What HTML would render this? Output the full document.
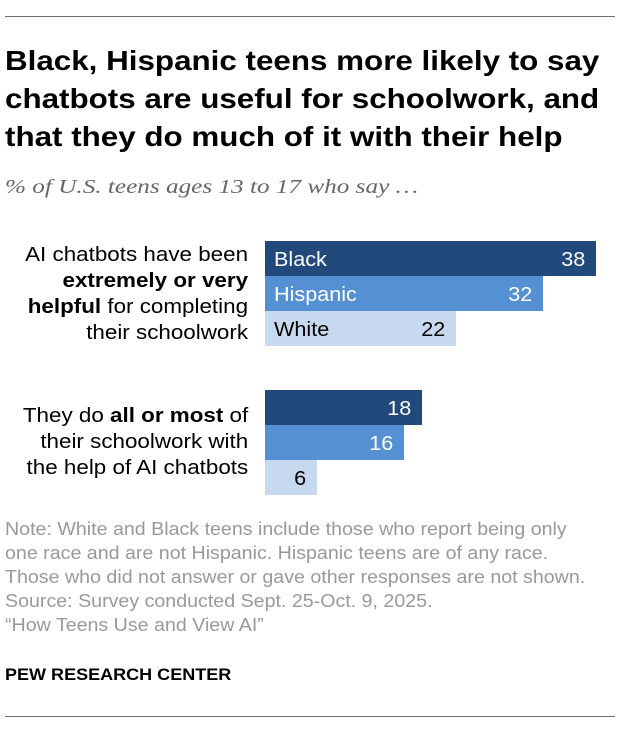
<!DOCTYPE html>
<html><head><style>
body{margin:0;width:620px;height:736px;background:#fff;font-family:"Liberation Sans",Arial,sans-serif;position:relative;overflow:hidden}
.a{position:absolute;white-space:nowrap}
.rule{left:5px;width:610px;height:1px;background:#6f6f6f}
.bar{position:absolute;left:265px;height:35px;font-size:20px;line-height:38px}
.d{background:#21497b;color:#fff}.m{background:#5590d3;color:#fff}.l{background:#c6d9ef;color:#000}
.bar .n{position:absolute;left:9px;transform:scaleX(1.08);transform-origin:left}.bar .v{position:absolute;right:11px;transform:scaleX(1.08);transform-origin:right}
.lab{font-size:20px;line-height:26px;text-align:right;right:372px;color:#000;transform:scaleX(1.12);transform-origin:right}
</style></head><body>
<div class="a rule" style="top:16px"></div>
<div class="a" style="left:5px;top:42px;font-size:28px;font-weight:bold;line-height:38px;color:#000;transform:scaleX(1.12);transform-origin:left">Black, Hispanic teens more likely to say<br>chatbots are useful for schoolwork, and<br>that they do much of it with their help</div>
<div class="a" style="left:5px;top:176px;font-family:'Liberation Serif',serif;font-style:italic;font-size:20px;color:#666;transform:scaleX(1.26);transform-origin:left">% of U.S. teens ages 13 to 17 who say …</div>
<div class="a lab" style="top:242px">AI chatbots have been<br><b>extremely or very</b><br><b>helpful</b> for completing<br>their schoolwork</div>
<div class="a lab" style="top:403px">They do <b>all or most</b> of<br>their schoolwork with<br>the help of AI chatbots</div>
<div class="bar d" style="top:241px;width:331px"><span class="n">Black</span><span class="v">38</span></div>
<div class="bar m" style="top:276px;width:278px"><span class="n">Hispanic</span><span class="v">32</span></div>
<div class="bar l" style="top:311px;width:191px"><span class="n">White</span><span class="v">22</span></div>
<div class="bar d" style="top:390px;width:157px"><span class="v">18</span></div>
<div class="bar m" style="top:425px;width:139px"><span class="v">16</span></div>
<div class="bar l" style="top:460px;width:52px"><span class="v">6</span></div>
<div class="a" style="left:5px;top:517px;font-size:18px;line-height:24px;color:#999;transform:scaleX(1.09);transform-origin:left">Note: White and Black teens include those who report being only<br>one race and are not Hispanic. Hispanic teens are of any race.<br>Those who did not answer or gave other responses are not shown.<br>Source: Survey conducted Sept. 25-Oct. 9, 2025.<br>“How Teens Use and View AI”</div>
<div class="a" style="left:5px;top:665px;font-size:17px;font-weight:bold;color:#000;transform:scaleX(1.06);transform-origin:left">PEW RESEARCH CENTER</div>
<div class="a rule" style="top:716px"></div>
</body></html>
